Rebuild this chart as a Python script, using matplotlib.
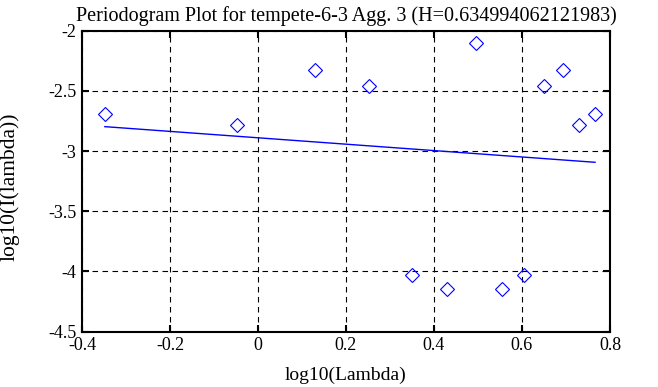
import numpy as np
import matplotlib
matplotlib.use("Agg")
import matplotlib.pyplot as plt

plt.rcParams['font.family'] = ['Liberation Serif', 'DejaVu Serif']

# periodogram points (log10 lambda, log10 I(lambda))
log_lambda = [-0.348, -0.048, 0.1295, 0.253, 0.349, 0.4295, 0.496,
              0.5545, 0.605, 0.651, 0.693, 0.7295, 0.766]
log_I = [-2.692, -2.783, -2.326, -2.459, -4.029, -4.145, -2.105,
         -4.145, -4.029, -2.459, -2.326, -2.783, -2.692]

# fitted line end points
fit_x = [-0.348, 0.766]
fit_y = [-2.797, -3.093]

H = 0.634994062121983

fig = plt.figure(figsize=(6.58, 3.87), dpi=100)
ax = fig.add_axes([0.1246, 0.1429, 0.8024, 0.7778])

ax.plot(log_lambda, log_I, linestyle='none', marker='D', markersize=7,
        markerfacecolor='none', markeredgecolor='blue', markeredgewidth=0.8)
ax.plot(fit_x, fit_y, color='blue', lw=1)

ax.set_xlim(-0.4, 0.8)
ax.set_ylim(-4.5, -2)
ax.set_xticks(np.arange(-0.4, 0.81, 0.2))
ax.set_xticklabels(['-0.4', '-0.2', '0', '0.2', '0.4', '0.6', '0.8'])
ax.set_yticks(np.arange(-4.5, -1.99, 0.5))
ax.set_yticklabels(['-4.5', '-4', '-3.5', '-3', '-2.5', '-2'])
ax.grid(True, color='black', linestyle=(0, (5, 4)), lw=0.8)
ax.tick_params(direction='in', top=True, right=True, length=5, width=1.5,
               labelsize=13, pad=4)
for s in ax.spines.values():
    s.set_linewidth(1.5)

ax.set_xlabel('log10(Lambda)', fontsize=14)
ax.xaxis.set_label_coords(0.5, -0.115)
ax.set_ylabel('log10(I(lambda))', fontsize=15.5)
ax.yaxis.set_label_coords(-0.118, 0.483)
ax.set_title(f'Periodogram Plot for tempete-6-3 Agg. 3 (H={H})', fontsize=14.5, pad=7)

fig.savefig('out.png', dpi=100)
